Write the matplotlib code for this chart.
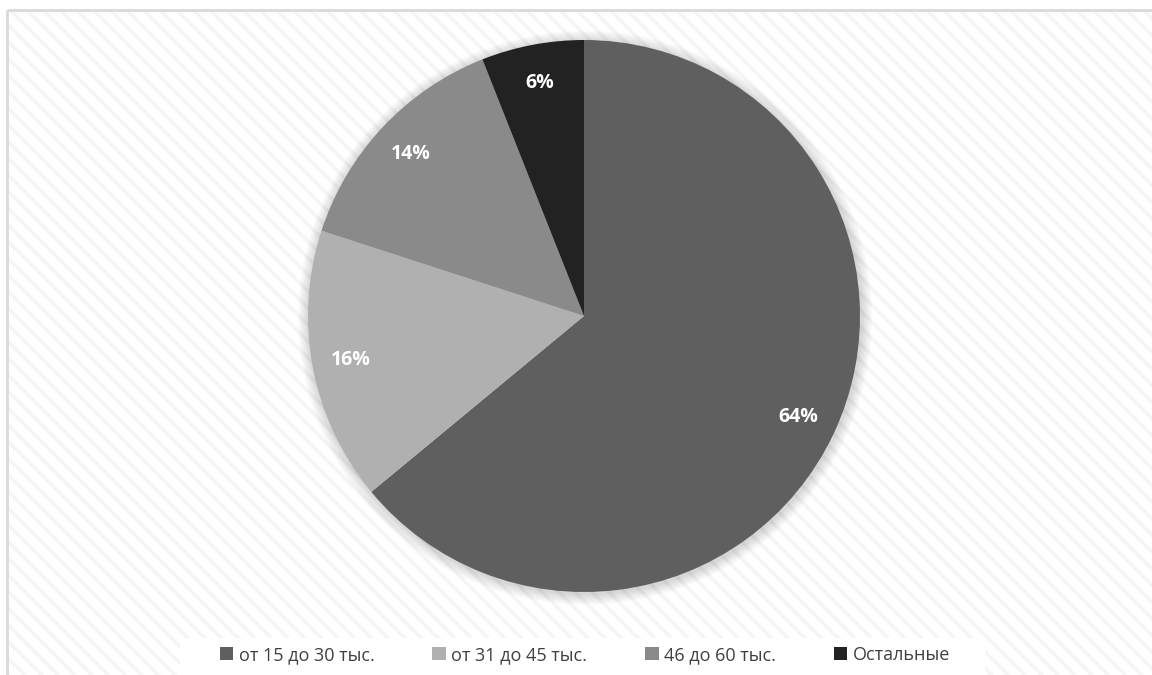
import matplotlib.pyplot as plt
from matplotlib.patches import Rectangle, Circle, Patch

# data
labels = ['от 15 до 30 тыс.', 'от 31 до 45 тыс.', '46 до 60 тыс.', 'Остальные']
shares = [64, 16, 14, 6]
colors = ['#5f5f5f', '#b0b0b0', '#8a8a8a', '#222222']

W, H = 1152, 675
plt.rcParams['hatch.linewidth'] = 2.5
plt.rcParams['font.family'] = ['Open Sans', 'DejaVu Sans']

fig = plt.figure(figsize=(W / 100, H / 100), dpi=100)
fig.patch.set_facecolor('white')

# background with light diagonal stripes and a frame
bg = fig.add_axes([0, 0, 1, 1])
bg.set_xlim(0, W)
bg.set_ylim(H, 0)
bg.axis('off')
bg.add_patch(Rectangle((7, 10), W, H, facecolor='white', edgecolor='#f5f5f5',
                       hatch='\\\\', lw=0))
bg.add_patch(Rectangle((7, 10), W, H, facecolor='none', edgecolor='#d9d9d9', lw=2))
bg.add_patch(Rectangle((180, 638), 805, 40, facecolor='white', lw=0))

# pie
cx, cy, r = 584, 316, 276
ax = fig.add_axes([(cx - r) / W, (H - cy - r) / H, 2 * r / W, 2 * r / H])

# soft shadow
for i in range(8):
    ax.add_patch(Circle((0.004, -0.006), 1.0 + 0.005 * (i + 1), facecolor='black',
                        alpha=0.018, lw=0, zorder=0, clip_on=False))

wedges, texts, autotexts = ax.pie(
    shares, colors=colors, startangle=90, counterclock=False, radius=1,
    autopct='%d%%', pctdistance=0.86,
    wedgeprops=dict(lw=0),
    textprops=dict(color='white', fontsize=14, fontweight='bold'))
for w in wedges:
    w.set_zorder(2)
for t in autotexts:
    t.set_zorder(3)
ax.set_xlim(-1, 1)
ax.set_ylim(-1, 1)
ax.set_aspect('equal')
ax.axis('off')

handles = [Patch(facecolor=c, edgecolor='none') for c in colors]
fig.legend(handles, labels, loc='center', bbox_to_anchor=(585 / W, 1 - 655 / H),
           ncol=4, frameon=False, fontsize=13, handlelength=0.75, handleheight=0.75,
           handletextpad=0.3, columnspacing=3.2, labelcolor='#404040')

fig.savefig('out.png', dpi=100)
